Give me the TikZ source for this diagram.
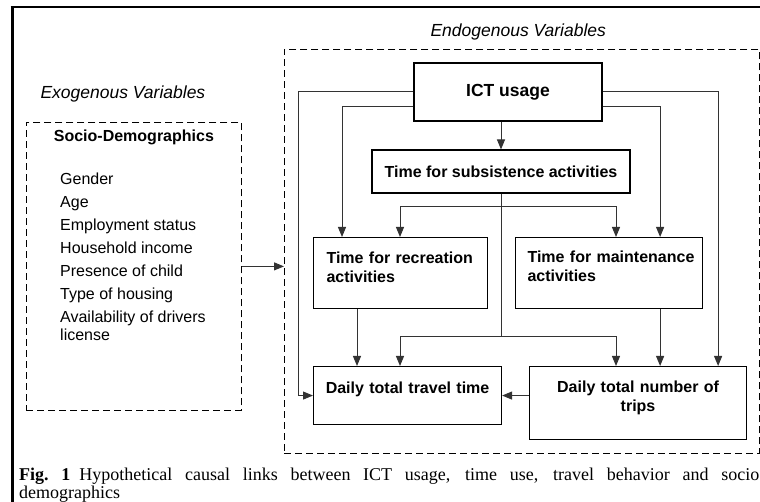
\documentclass[tikz,border=0pt]{standalone}
\usepackage{fontspec}
\setmainfont{Liberation Serif}
\setsansfont{Liberation Sans}
\usetikzlibrary{positioning,arrows.meta}

\begin{document}
\begin{tikzpicture}[
    x=1pt, y=-1pt,
    box/.style={draw, line width=1.1pt, inner sep=0pt, font=\sffamily\bfseries\fontsize{16}{18.5}\selectfont},
    group/.style={draw, dash pattern=on 7pt off 4pt, line width=0.8pt, inner sep=0pt},
    arr/.style={-{Triangle[length=10pt, width=8pt]}, line width=1pt, black!80},
    link/.style={line width=1pt, black!80},
    heading/.style={font=\sffamily\itshape\fontsize{17.5}{20}\selectfont},
]
\useasboundingbox (0,0) rectangle (760,502);

% Page frame
\draw[line width=3pt] (12,502) -- (12,7.5);
\draw[line width=2pt] (10.5,7.5) -- (760,7.5);

% Exogenous side
\node[heading, anchor=base west] (exolabel) at (37,99) {Exogenous Variables};
\node[group, anchor=north west, text width=215pt, align=center, text height=19.5pt, text depth=268.5pt,
      font=\sffamily\bfseries\fontsize{16}{18.5}\selectfont] (demo) at (26,122) {Socio-Demographics};
% list is placed by its last line
\node[anchor=base west, align=left, inner sep=0pt, font=\sffamily\fontsize{16}{23}\selectfont] (items) at (60,341)
    {Gender\\Age\\Employment status\\Household income\\Presence of child\\Type of housing\\Availability of drivers\\[-5pt]license};

% Endogenous side
\node[heading, anchor=base west] (endolabel) at (427,36.5) {Endogenous Variables};
\node[group, anchor=north west, minimum width=475, minimum height=404] (endo) at (284,49) {};

% Row 1: ICT
\node[box, minimum width=188, minimum height=58, font=\sffamily\bfseries\fontsize{17.5}{20}\selectfont] (ict) at (508,92) {ICT usage};

% Row 2: Subsistence
\node[box, minimum width=258, minimum height=43] (sub) at (501,171.5) {Time for subsistence activities};

% Row 3: Recreation + Maintenance
\node[box, anchor=north west, inner xsep=13pt, text width=148pt, align=left, text height=26pt, text depth=45pt] (rec) at (313,237) {Time for recreation\\activities};
\node[box, anchor=north west, inner xsep=12pt, text width=163pt, align=left, text height=25pt, text depth=46pt] (maint) at (515,237) {\mbox{Time for maintenance}\\activities};

% Row 4: Travel outcomes
\node[box, anchor=north west, text width=188pt, align=center, text height=27pt, text depth=31pt] (travel) at (313,366) {Daily total travel time};
\node[box, anchor=north west, text width=217pt, align=center, text height=26pt, text depth=47pt] (trips) at (529,366) {Daily total number of\\trips};

% Split points below subsistence
\coordinate (fork1) at (sub.south |- 0,207);
\coordinate (fork2) at (sub.south |- 0,337);

% Arrows out of ICT
\draw[arr] (sub.north |- ict.south) -- (sub.north);
\draw[arr] (ict.west) -- (ict.west -| 298,0) |- (travel.west);
\draw[arr] ([yshift=-15pt]ict.west) -| ([xshift=29pt]rec.north west);
\draw[arr] (ict.east) -| ([xshift=-29pt]trips.north east);
\draw[arr] ([yshift=-15pt]ict.east) -| ([xshift=-43pt]maint.north east);

% Arrows out of subsistence
\draw[link] (sub.south) -- (fork2);
\draw[arr] (fork1) -| ([xshift=87pt]rec.north west);
\draw[arr] (fork1) -| ([xshift=101pt]maint.north west);
\draw[arr] (fork2) -| ([xshift=87pt]travel.north west);
\draw[arr] (fork2) -| ([xshift=87pt]trips.north west);

% Activities to travel
\draw[arr] ([xshift=44pt]rec.south west) -- ([xshift=44pt]travel.north west);
\draw[arr] ([xshift=-43pt]maint.south east) -- ([xshift=-87pt]trips.north east);
\draw[arr] (trips.west |- travel.east) -- (travel.east);

% Exogenous to endogenous
\draw[arr] (demo.east) -- (demo.east -| endo.west);

% Caption
\node[anchor=base west, text width=740pt, align=justify, inner sep=0pt, font=\fontsize{18}{18.5}\selectfont] (caption) at (19,480)
    {\textbf{Fig.~1}\enskip Hypothetical causal links between ICT usage, time use, travel behavior and socio\linebreak demographics};

\end{tikzpicture}
\end{document}
